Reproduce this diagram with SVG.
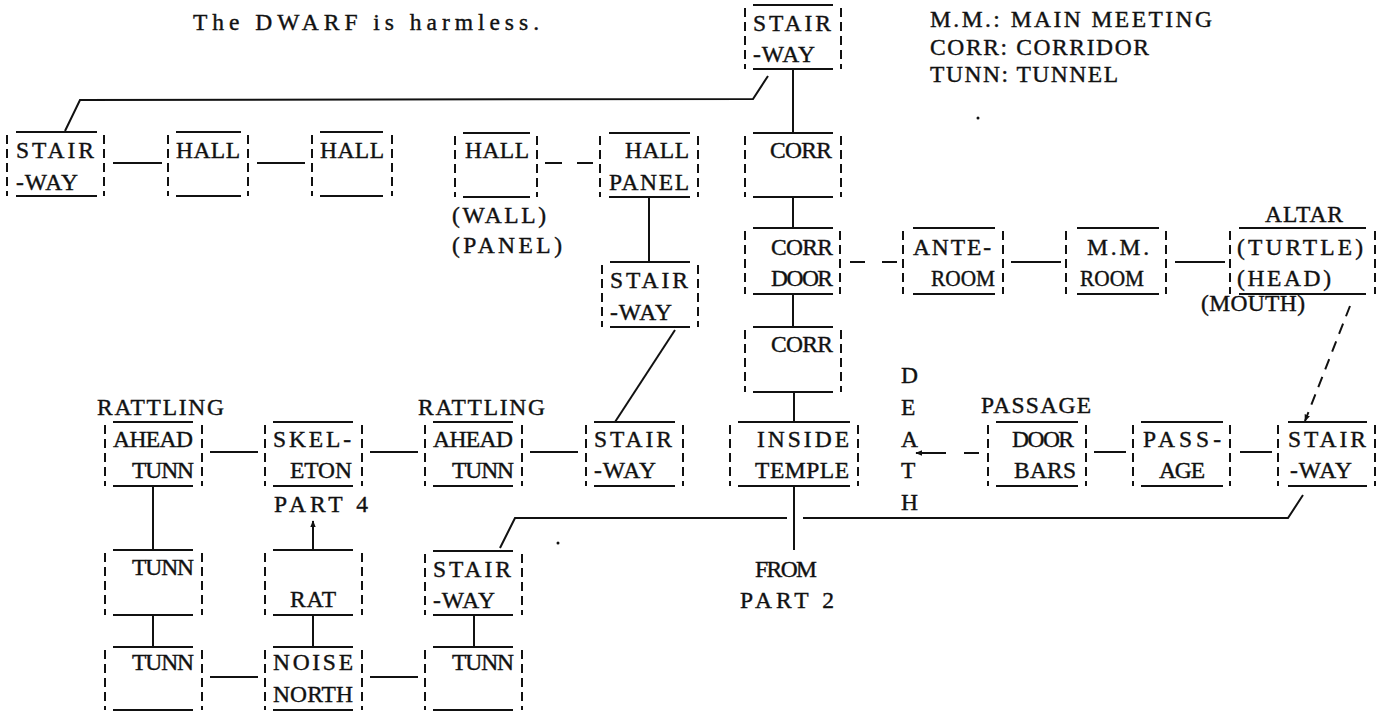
<svg xmlns="http://www.w3.org/2000/svg" width="1382" height="712" viewBox="0 0 1382 712">
<defs>
<style>
text{font-family:"Liberation Serif","Times New Roman",serif;font-size:23.5px;fill:#111;stroke:#111;stroke-width:0.4}
.h{stroke:#111;stroke-width:2;fill:none}
.v{stroke:#111;stroke-width:2;stroke-dasharray:9 5;fill:none}
.c{stroke:#111;stroke-width:2;fill:none}
.cd{stroke:#111;stroke-width:2;fill:none;stroke-dasharray:11 8}
</style>
<marker id="ah" viewBox="0 0 10 10" refX="9" refY="5" markerWidth="7" markerHeight="7" orient="auto" markerUnits="userSpaceOnUse">
<path d="M0,1 L10,5 L0,9 Z" fill="#111"/>
</marker>
</defs>
<rect width="1382" height="712" fill="#fff"/>

<g id="notes">
<text x="193" y="30" textLength="346" lengthAdjust="spacing">The DWARF is harmless.</text>
<text x="930" y="27" textLength="282" lengthAdjust="spacing">M.M.: MAIN MEETING</text>
<text x="930" y="55" textLength="219" lengthAdjust="spacing">CORR: CORRIDOR</text>
<text x="930" y="82" textLength="188" lengthAdjust="spacing">TUNN: TUNNEL</text>
<circle cx="978" cy="118" r="1.5" fill="#111"/>
<circle cx="558" cy="543" r="1.5" fill="#111"/>
</g>

<g id="connectors">
<line class="c" x1="113" y1="163" x2="162" y2="163"/>
<line class="c" x1="257" y1="163" x2="305" y2="163"/>
<line class="c" x1="545" y1="163" x2="562" y2="163"/>
<line class="c" x1="577" y1="163" x2="593" y2="163"/>
<polyline class="c" points="65,131 80,100 753,99 768,76"/>
<line class="c" x1="793" y1="69" x2="793" y2="133"/>
<line class="c" x1="793" y1="197" x2="793" y2="228"/>
<line class="c" x1="793" y1="294" x2="793" y2="327"/>
<line class="c" x1="794" y1="392" x2="794" y2="422"/>
<line class="c" x1="794" y1="486" x2="794" y2="550"/>
<line class="c" x1="649" y1="197" x2="649" y2="262"/>
<line class="c" x1="675" y1="330" x2="615" y2="422"/>
<line class="c" x1="850" y1="262" x2="865" y2="262"/>
<line class="c" x1="882" y1="262" x2="897" y2="262"/>
<line class="c" x1="1011" y1="262" x2="1061" y2="262"/>
<line class="c" x1="1175" y1="262" x2="1225" y2="262"/>
<line class="cd" x1="1350" y1="306" x2="1305" y2="421" marker-end="url(#ah)"/>
<line class="c" x1="210" y1="452" x2="258" y2="452"/>
<line class="c" x1="370" y1="452" x2="418" y2="452"/>
<line class="c" x1="530" y1="452" x2="578" y2="452"/>
<line class="c" x1="964" y1="453" x2="979" y2="453"/>
<line class="c" x1="946" y1="453" x2="916" y2="453" marker-end="url(#ah)"/>
<line class="c" x1="1094" y1="452" x2="1126" y2="452"/>
<line class="c" x1="1240" y1="452" x2="1272" y2="452"/>
<polyline class="c" points="500,548 515,518 787,518"/>
<polyline class="c" points="803,518 1288,518 1303,495"/>
<line class="c" x1="153" y1="486" x2="153" y2="550" stroke-width="2.6"/>
<line class="c" x1="153" y1="615" x2="153" y2="647"/>
<line class="c" x1="313" y1="550" x2="313" y2="521" marker-end="url(#ah)"/>
<line class="c" x1="313" y1="615" x2="313" y2="647"/>
<line class="c" x1="474" y1="615" x2="474" y2="647"/>
<line class="c" x1="210" y1="677" x2="258" y2="677"/>
<line class="c" x1="370" y1="677" x2="418" y2="677"/>
</g>

<g id="n-stairway-1">
<line class="h" x1="16" y1="132" x2="97" y2="132"/><line class="h" x1="16" y1="196" x2="97" y2="196"/>
<line class="v" x1="7" y1="135" x2="7" y2="196"/><line class="v" x1="104" y1="135" x2="104" y2="196"/>
<text x="16" y="158" textLength="78" lengthAdjust="spacing">STAIR</text><text x="16" y="190" textLength="62" lengthAdjust="spacing">-WAY</text>
</g>
<g id="n-hall-1">
<line class="h" x1="176" y1="132" x2="241" y2="132"/><line class="h" x1="176" y1="196" x2="241" y2="196"/>
<line class="v" x1="168" y1="135" x2="168" y2="196"/><line class="v" x1="248" y1="135" x2="248" y2="196"/>
<text x="176" y="158" textLength="64" lengthAdjust="spacing">HALL</text>
</g>
<g id="n-hall-2">
<line class="h" x1="320" y1="132" x2="383" y2="132"/><line class="h" x1="320" y1="196" x2="383" y2="196"/>
<line class="v" x1="312" y1="135" x2="312" y2="196"/><line class="v" x1="392" y1="135" x2="392" y2="196"/>
<text x="320" y="158" textLength="64" lengthAdjust="spacing">HALL</text>
</g>
<g id="n-hall-3">
<line class="h" x1="463" y1="133" x2="530" y2="133"/><line class="h" x1="463" y1="197" x2="530" y2="197"/>
<line class="v" x1="455" y1="136" x2="455" y2="197"/><line class="v" x1="537" y1="136" x2="537" y2="197"/>
<text x="465" y="158" textLength="64" lengthAdjust="spacing">HALL</text>
<text x="452" y="223" textLength="94" lengthAdjust="spacing">(WALL)</text><text x="452" y="253" textLength="110" lengthAdjust="spacing">(PANEL)</text>
</g>
<g id="n-hall-panel">
<line class="h" x1="609" y1="133" x2="690" y2="133"/><line class="h" x1="609" y1="197" x2="690" y2="197"/>
<line class="v" x1="600" y1="136" x2="600" y2="197"/><line class="v" x1="698" y1="136" x2="698" y2="197"/>
<text x="625" y="158" textLength="64" lengthAdjust="spacing">HALL</text><text x="609" y="190" textLength="80" lengthAdjust="spacing">PANEL</text>
</g>
<g id="n-stairway-top">
<line class="h" x1="753" y1="5" x2="833" y2="5"/><line class="h" x1="753" y1="69" x2="833" y2="69"/>
<line class="v" x1="745" y1="8" x2="745" y2="69"/><line class="v" x1="841" y1="8" x2="841" y2="69"/>
<text x="753" y="31" textLength="78" lengthAdjust="spacing">STAIR</text><text x="753" y="62" textLength="62" lengthAdjust="spacing">-WAY</text>
</g>
<g id="n-corr-1">
<line class="h" x1="753" y1="133" x2="833" y2="133"/><line class="h" x1="753" y1="197" x2="833" y2="197"/>
<line class="v" x1="745" y1="136" x2="745" y2="197"/><line class="v" x1="841" y1="136" x2="841" y2="197"/>
<text x="770" y="158" textLength="62" lengthAdjust="spacing">CORR</text>
</g>

<g id="n-stairway-mid">
<line class="h" x1="610" y1="262" x2="690" y2="262"/><line class="h" x1="610" y1="327" x2="690" y2="327"/>
<line class="v" x1="602" y1="265" x2="602" y2="327"/><line class="v" x1="698" y1="265" x2="698" y2="327"/>
<text x="610" y="288" textLength="78" lengthAdjust="spacing">STAIR</text><text x="610" y="320" textLength="62" lengthAdjust="spacing">-WAY</text>
</g>
<g id="n-corr-door">
<line class="h" x1="753" y1="228" x2="833" y2="228"/><line class="h" x1="753" y1="294" x2="833" y2="294"/>
<line class="v" x1="745" y1="231" x2="745" y2="294"/><line class="v" x1="840" y1="231" x2="840" y2="294"/>
<text x="771" y="255" textLength="62" lengthAdjust="spacing">CORR</text><text x="771" y="286" textLength="62" lengthAdjust="spacing">DOOR</text>
</g>
<g id="n-corr-2">
<line class="h" x1="753" y1="327" x2="833" y2="327"/><line class="h" x1="753" y1="392" x2="833" y2="392"/>
<line class="v" x1="745" y1="330" x2="745" y2="392"/><line class="v" x1="841" y1="330" x2="841" y2="392"/>
<text x="771" y="352" textLength="62" lengthAdjust="spacing">CORR</text>
</g>
<g id="n-anteroom">
<line class="h" x1="913" y1="228" x2="995" y2="228"/><line class="h" x1="913" y1="294" x2="995" y2="294"/>
<line class="v" x1="903" y1="231" x2="903" y2="294"/><line class="v" x1="1003" y1="231" x2="1003" y2="294"/>
<text x="913" y="255" textLength="78" lengthAdjust="spacing">ANTE-</text><text x="931" y="286" textLength="64" lengthAdjust="spacingAndGlyphs">ROOM</text>
</g>
<g id="n-mm-room">
<line class="h" x1="1077" y1="228" x2="1159" y2="228"/><line class="h" x1="1077" y1="294" x2="1159" y2="294"/>
<line class="v" x1="1066" y1="231" x2="1066" y2="294"/><line class="v" x1="1166" y1="231" x2="1166" y2="294"/>
<text x="1087" y="255" textLength="62" lengthAdjust="spacing">M.M.</text><text x="1080" y="286" textLength="64" lengthAdjust="spacingAndGlyphs">ROOM</text>
</g>
<g id="n-altar">
<text x="1265" y="222" textLength="78" lengthAdjust="spacing">ALTAR</text>
<line class="h" x1="1239" y1="228" x2="1366" y2="228"/><line class="h" x1="1239" y1="294" x2="1366" y2="294"/>
<line class="v" x1="1230" y1="231" x2="1230" y2="294"/><line class="v" x1="1375" y1="231" x2="1375" y2="294"/>
<text x="1237" y="255" textLength="126" lengthAdjust="spacing">(TURTLE)</text><text x="1237" y="286" textLength="94" lengthAdjust="spacing">(HEAD)</text>
<text x="1201" y="311" textLength="104" lengthAdjust="spacing">(MOUTH)</text>
</g>

<g id="n-ahead-tunn-1">
<text x="97" y="415" textLength="127" lengthAdjust="spacing">RATTLING</text>
<line class="h" x1="113" y1="422" x2="193" y2="422"/><line class="h" x1="113" y1="486" x2="193" y2="486"/>
<line class="v" x1="105" y1="425" x2="105" y2="486"/><line class="v" x1="202" y1="425" x2="202" y2="486"/>
<text x="113" y="447" textLength="80" lengthAdjust="spacing">AHEAD</text><text x="132" y="478" textLength="62" lengthAdjust="spacing">TUNN</text>
</g>
<g id="n-skeleton">
<line class="h" x1="273" y1="422" x2="353" y2="422"/><line class="h" x1="273" y1="486" x2="353" y2="486"/>
<line class="v" x1="265" y1="425" x2="265" y2="486"/><line class="v" x1="362" y1="425" x2="362" y2="486"/>
<text x="273" y="447" textLength="78" lengthAdjust="spacing">SKEL-</text><text x="290" y="478" textLength="62" lengthAdjust="spacing">ETON</text>
<text x="274" y="512" textLength="94" lengthAdjust="spacing">PART 4</text>
</g>
<g id="n-ahead-tunn-2">
<text x="418" y="415" textLength="127" lengthAdjust="spacing">RATTLING</text>
<line class="h" x1="433" y1="422" x2="513" y2="422"/><line class="h" x1="433" y1="486" x2="513" y2="486"/>
<line class="v" x1="425" y1="425" x2="425" y2="486"/><line class="v" x1="522" y1="425" x2="522" y2="486"/>
<text x="433" y="447" textLength="80" lengthAdjust="spacing">AHEAD</text><text x="452" y="478" textLength="62" lengthAdjust="spacing">TUNN</text>
</g>
<g id="n-stairway-low">
<line class="h" x1="594" y1="422" x2="675" y2="422"/><line class="h" x1="594" y1="486" x2="675" y2="486"/>
<line class="v" x1="586" y1="425" x2="586" y2="486"/><line class="v" x1="683" y1="425" x2="683" y2="486"/>
<text x="594" y="447" textLength="78" lengthAdjust="spacing">STAIR</text><text x="594" y="478" textLength="62" lengthAdjust="spacing">-WAY</text>
</g>
<g id="n-inside-temple">
<line class="h" x1="738" y1="422" x2="850" y2="422"/><line class="h" x1="738" y1="486" x2="850" y2="486"/>
<line class="v" x1="730" y1="425" x2="730" y2="486"/><line class="v" x1="858" y1="425" x2="858" y2="486"/>
<text x="757" y="447" textLength="92" lengthAdjust="spacing">INSIDE</text><text x="755" y="478" textLength="94" lengthAdjust="spacing">TEMPLE</text>
<text x="755" y="577" textLength="62" lengthAdjust="spacing">FROM</text><text x="740" y="608" textLength="94" lengthAdjust="spacing">PART 2</text>
</g>
<g id="death">
<text x="901" y="383">D</text><text x="901" y="415">E</text><text x="901" y="447">A</text><text x="901" y="478">T</text><text x="901" y="510">H</text>
</g>
<g id="n-door-bars">
<text x="981" y="413" textLength="110" lengthAdjust="spacing">PASSAGE</text>
<line class="h" x1="996" y1="422" x2="1078" y2="422"/><line class="h" x1="996" y1="486" x2="1078" y2="486"/>
<line class="v" x1="988" y1="425" x2="988" y2="486"/><line class="v" x1="1086" y1="425" x2="1086" y2="486"/>
<text x="1012" y="447" textLength="62" lengthAdjust="spacing">DOOR</text><text x="1014" y="478" textLength="62" lengthAdjust="spacing">BARS</text>
</g>
<g id="n-passage">
<line class="h" x1="1141" y1="422" x2="1223" y2="422"/><line class="h" x1="1141" y1="486" x2="1223" y2="486"/>
<line class="v" x1="1133" y1="425" x2="1133" y2="486"/><line class="v" x1="1230" y1="425" x2="1230" y2="486"/>
<text x="1143" y="447" textLength="78" lengthAdjust="spacing">PASS-</text><text x="1159" y="478" textLength="46" lengthAdjust="spacing">AGE</text>
</g>
<g id="n-stairway-right">
<line class="h" x1="1288" y1="422" x2="1367" y2="422"/><line class="h" x1="1288" y1="486" x2="1367" y2="486"/>
<line class="v" x1="1278" y1="425" x2="1278" y2="486"/><line class="v" x1="1375" y1="425" x2="1375" y2="486"/>
<text x="1288" y="447" textLength="78" lengthAdjust="spacing">STAIR</text><text x="1290" y="478" textLength="62" lengthAdjust="spacing">-WAY</text>
</g>

<g id="n-tunn-1">
<line class="h" x1="113" y1="550" x2="193" y2="550"/><line class="h" x1="113" y1="615" x2="193" y2="615"/>
<line class="v" x1="105" y1="553" x2="105" y2="615"/><line class="v" x1="202" y1="553" x2="202" y2="615"/>
<text x="132" y="575" textLength="62" lengthAdjust="spacing">TUNN</text>
</g>
<g id="n-rat">
<line class="h" x1="273" y1="550" x2="353" y2="550"/><line class="h" x1="273" y1="615" x2="353" y2="615"/>
<line class="v" x1="265" y1="553" x2="265" y2="615"/><line class="v" x1="362" y1="553" x2="362" y2="615"/>
<text x="290" y="607" textLength="46" lengthAdjust="spacing">RAT</text>
</g>
<g id="n-stairway-bottom">
<line class="h" x1="433" y1="551" x2="513" y2="551"/><line class="h" x1="433" y1="615" x2="513" y2="615"/>
<line class="v" x1="425" y1="554" x2="425" y2="615"/><line class="v" x1="522" y1="554" x2="522" y2="615"/>
<text x="433" y="577" textLength="78" lengthAdjust="spacing">STAIR</text><text x="433" y="608" textLength="62" lengthAdjust="spacing">-WAY</text>
</g>
<g id="n-tunn-2">
<line class="h" x1="113" y1="647" x2="193" y2="647"/><line class="h" x1="113" y1="710" x2="193" y2="710"/>
<line class="v" x1="105" y1="650" x2="105" y2="710"/><line class="v" x1="202" y1="650" x2="202" y2="710"/>
<text x="132" y="670" textLength="62" lengthAdjust="spacing">TUNN</text>
</g>
<g id="n-noise-north">
<line class="h" x1="273" y1="647" x2="353" y2="647"/><line class="h" x1="273" y1="710" x2="353" y2="710"/>
<line class="v" x1="265" y1="650" x2="265" y2="710"/><line class="v" x1="362" y1="650" x2="362" y2="710"/>
<text x="273" y="670" textLength="80" lengthAdjust="spacing">NOISE</text><text x="273" y="702" textLength="80" lengthAdjust="spacing">NORTH</text>
</g>
<g id="n-tunn-3">
<line class="h" x1="433" y1="647" x2="513" y2="647"/><line class="h" x1="433" y1="710" x2="513" y2="710"/>
<line class="v" x1="425" y1="650" x2="425" y2="710"/><line class="v" x1="522" y1="650" x2="522" y2="710"/>
<text x="452" y="670" textLength="62" lengthAdjust="spacing">TUNN</text>
</g>
</svg>
